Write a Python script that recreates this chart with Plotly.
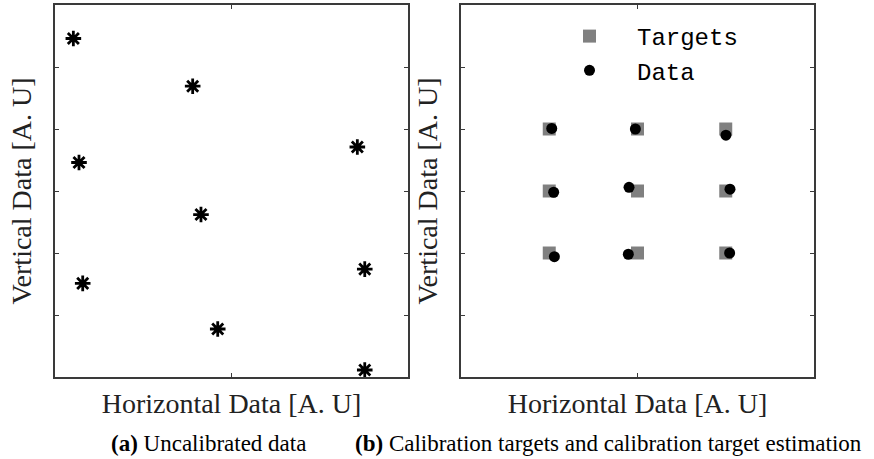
import plotly.graph_objects as go

# Uncalibrated gaze samples (panel a)
raw_x = [0.104, 0.780, 0.136, 1.713, 0.827, 0.157, 1.755, 0.922, 1.755]
raw_y = [5.46, 4.69, 3.46, 3.71, 2.62, 1.51, 1.74, 0.774, 0.113]

# Calibration targets (panel b)
target_x = [0.5, 1.0, 1.5, 0.5, 1.0, 1.5, 0.5, 1.0, 1.5]
target_y = [4, 4, 4, 3, 3, 3, 2, 2, 2]

# Estimated target positions after calibration (panel b)
est_x = [0.514, 0.988, 1.501, 0.525, 0.952, 1.524, 0.529, 0.948, 1.522]
est_y = [4.01, 4.00, 3.90, 2.98, 3.06, 3.03, 1.94, 1.98, 2.00]

x_ticks = [1]
y_ticks = [1, 2, 3, 4, 5]
x_title = "Horizontal Data [A. U]"
y_title = "Vertical Data [A. U]"
captions = ["<b>(a)</b> Uncalibrated data",
            "<b>(b)</b> Calibration targets and calibration target estimation"]

W, H = 874, 459
SERIF = "Liberation Serif, Times New Roman, serif"
MONO = "Liberation Mono, Courier New, monospace"
AX_COL = "#3a3a3a"

fig = go.Figure()

fig.add_trace(go.Scatter(
    x=raw_x, y=raw_y, mode="markers", xaxis="x", yaxis="y",
    showlegend=False, cliponaxis=False,
    marker=dict(symbol="asterisk-open", size=13, color="black",
                line=dict(color="black", width=2.8)),
))
fig.add_trace(go.Scatter(
    x=target_x, y=target_y, mode="markers", xaxis="x2", yaxis="y2",
    name="Targets", cliponaxis=False,
    marker=dict(symbol="square", size=13, color="#808080"),
))
fig.add_trace(go.Scatter(
    x=est_x, y=est_y, mode="markers", xaxis="x2", yaxis="y2",
    name="Data", cliponaxis=False,
    marker=dict(symbol="circle", size=11, color="black"),
))


def xaxis(domain):
    return dict(domain=domain, range=[0, 2], tickvals=x_ticks, showticklabels=False,
                ticks="inside", ticklen=4, tickwidth=1, tickcolor=AX_COL,
                showline=True, linecolor=AX_COL, linewidth=1.5, mirror="ticks",
                showgrid=False, zeroline=False, fixedrange=True,
                title=dict(text=x_title, standoff=16,
                           font=dict(family=SERIF, size=28, color="#222")))


def yaxis(anchor):
    return dict(domain=[(H - 377) / H, (H - 5) / H], range=[0, 6], anchor=anchor,
                tickvals=y_ticks, showticklabels=False,
                ticks="inside", ticklen=4, tickwidth=1, tickcolor=AX_COL,
                showline=True, linecolor=AX_COL, linewidth=1.5, mirror="ticks",
                showgrid=False, zeroline=False, fixedrange=True,
                title=dict(text=y_title, standoff=13,
                           font=dict(family=SERIF, size=28, color="#222")))


fig.update_layout(
    width=W, height=H,
    margin=dict(l=0, r=0, t=0, b=0),
    paper_bgcolor="white", plot_bgcolor="white",
    xaxis=dict(xaxis([55 / W, 408 / W]), anchor="y"),
    yaxis=yaxis("x"),
    xaxis2=dict(xaxis([461 / W, 814 / W]), anchor="y2"),
    yaxis2=yaxis("x2"),
    showlegend=True,
    legend=dict(x=542 / W, y=(H - 14) / H, xanchor="left", yanchor="top",
                bgcolor="rgba(0,0,0,0)", borderwidth=0, itemwidth=85,
                font=dict(family=MONO, size=24, color="black"),
                tracegroupgap=0),
)

for cx, text in zip([208, 608.5], captions):
    fig.add_annotation(text=text, x=cx / W, y=(H - 443) / H, xref="paper", yref="paper",
                       xanchor="center", yanchor="middle", showarrow=False,
                       font=dict(family=SERIF, size=23, color="black"))

fig.write_html("out.html")
